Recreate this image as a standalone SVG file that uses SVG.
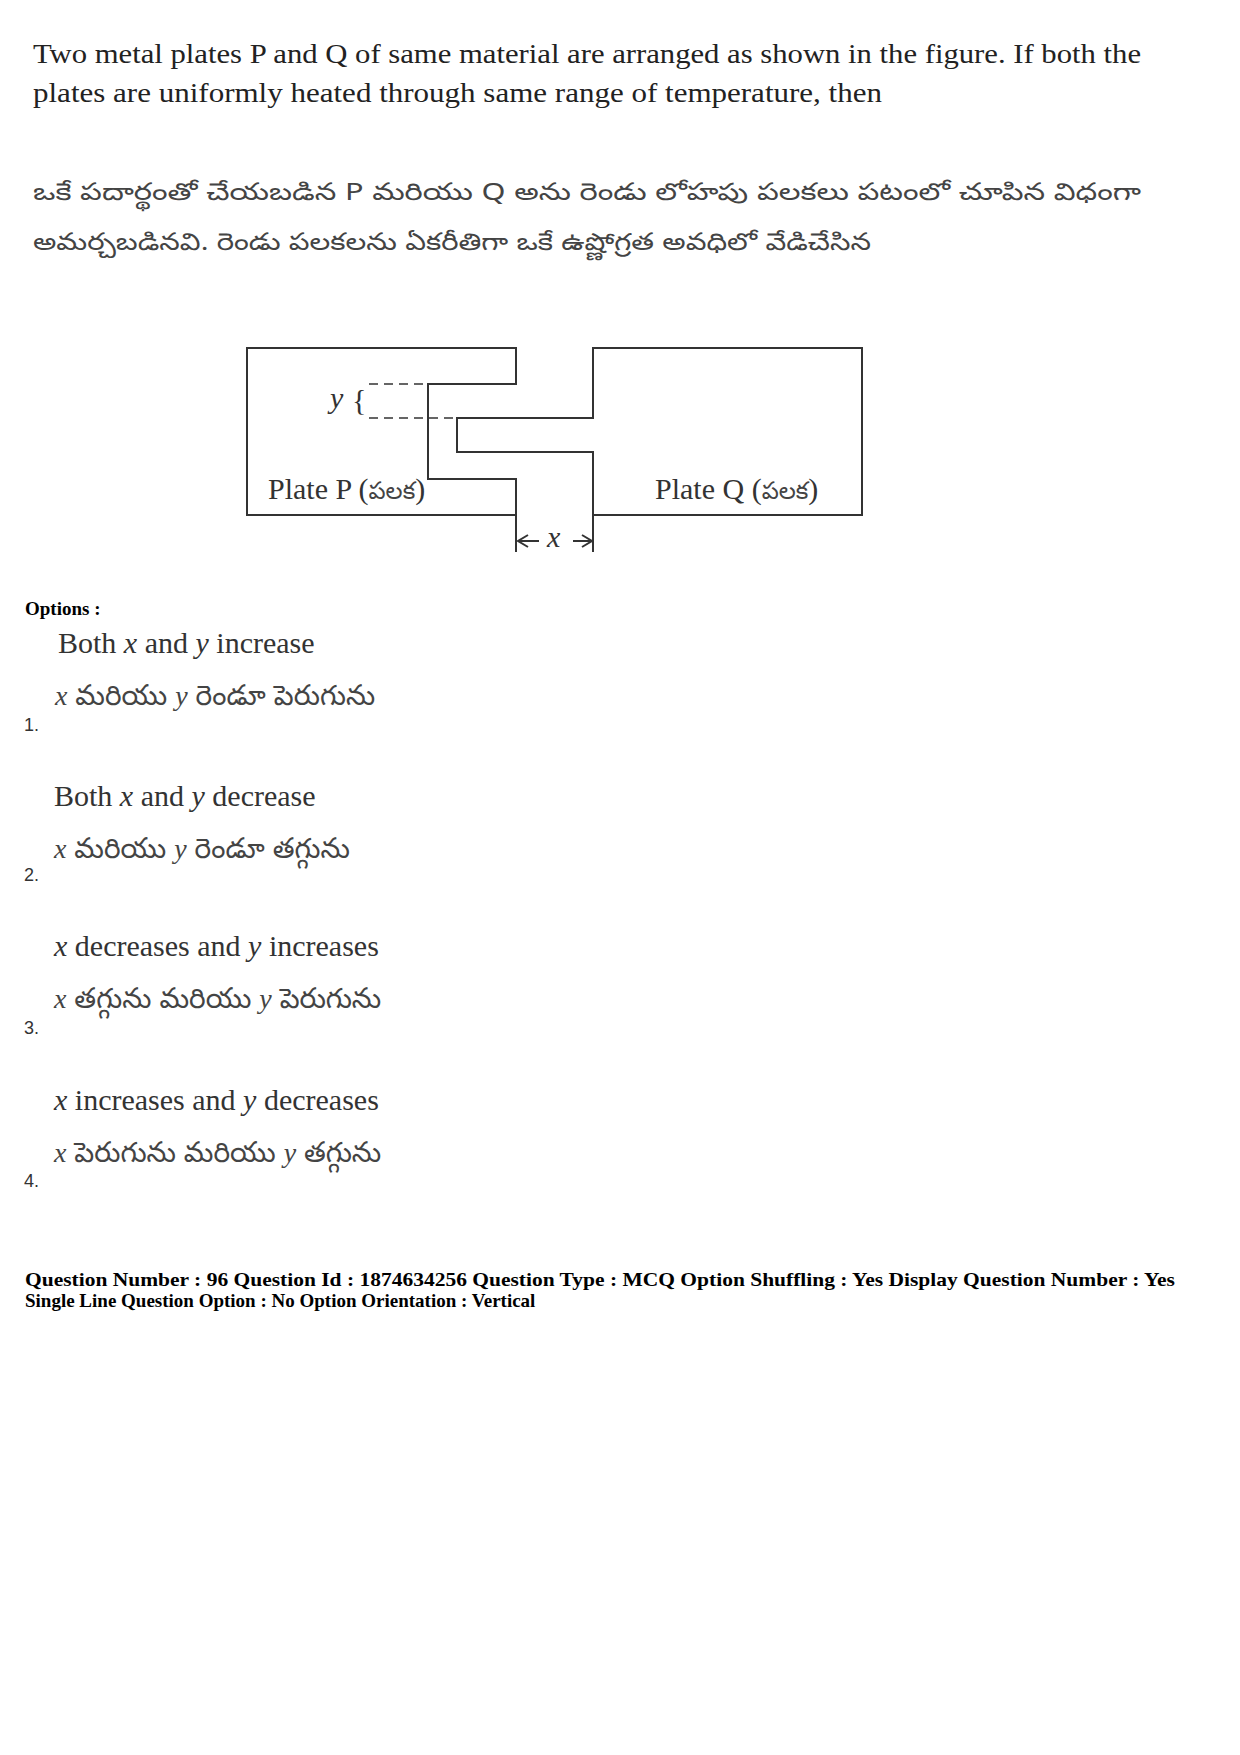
<svg xmlns="http://www.w3.org/2000/svg" width="1240" height="1755" viewBox="0 0 1240 1755">
<style>
.t{font-family:"Liberation Serif","Times New Roman",serif;font-size:28px;fill:#222}
.te{font-family:"Noto Sans Telugu","Noto Sans","Liberation Serif",sans-serif;font-size:24px;fill:#444}
.o{font-family:"Liberation Serif",serif;font-size:30px;fill:#333}
.ot{font-family:"Noto Sans Telugu","Noto Sans","Liberation Serif",sans-serif;font-size:28px;fill:#444}
.n{font-family:"Liberation Sans",sans-serif;font-size:18px;fill:#333}
.b{font-family:"Liberation Serif",serif;font-size:19px;font-weight:bold;fill:#000}
.ln{fill:none;stroke:#333;stroke-width:2}
.d{stroke:#333;stroke-width:1.5;stroke-dasharray:9,6}
.i{font-family:"Liberation Serif",serif;font-style:italic}
</style>
<rect width="1240" height="1755" fill="#fff"/>
<text class="t" x="33" y="63" textLength="1108" lengthAdjust="spacingAndGlyphs">Two metal plates P and Q of same material are arranged as shown in the figure. If both the</text>
<text class="t" x="33" y="102" textLength="849" lengthAdjust="spacingAndGlyphs">plates are uniformly heated through same range of temperature, then</text>
<text class="te" x="33" y="200" textLength="1108" lengthAdjust="spacingAndGlyphs">ఒకే పదార్థంతో చేయబడిన P మరియు Q అను రెండు లోహపు పలకలు పటంలో చూపిన విధంగా</text>
<text class="te" x="33" y="250" textLength="838" lengthAdjust="spacingAndGlyphs">అమర్చబడినవి. రెండు పలకలను ఏకరీతిగా ఒకే ఉష్ణోగ్రత అవధిలో వేడిచేసిన</text>
<g id="plateP"><path class="ln" d="M516,348 H247 V515 H516 V479 H428 V384 H516 Z"/>
<text class="o" x="268" y="499" font-size="25">Plate P (<tspan class="te" font-size="21">పలక</tspan>)</text></g>
<g id="plateQ"><path class="ln" d="M593,348 H862 V515 H593 V452 H457 V418 H593 Z"/>
<text class="o" x="655" y="499" font-size="25">Plate Q (<tspan class="te" font-size="21">పలక</tspan>)</text></g>
<g id="dims">
<line class="d" x1="369" y1="384" x2="428" y2="384"/>
<line class="d" x1="369" y1="418" x2="457" y2="418"/>
<text class="o i" x="330" y="408" font-size="26">y</text>
<text class="o" x="352" y="410" font-size="28">{</text>
<line class="ln" x1="516" y1="515" x2="516" y2="552"/>
<line class="ln" x1="593" y1="515" x2="593" y2="552"/>
<path class="ln" stroke-width="1.5" d="M518,541 H539 M592,541 H573 M528,535 L518,541 L528,547 M582,535 L592,541 L582,547"/>
<text class="o i" x="547" y="547" font-size="26">x</text>
</g>
<text class="b" x="25" y="615">Options :</text>
<text class="o" x="58" y="653">Both <tspan class="i">x</tspan> and <tspan class="i">y</tspan> increase</text>
<text class="ot" x="55" y="705"><tspan class="i">x</tspan> మరియు <tspan class="i">y</tspan> రెండూ పెరుగును</text>
<text class="n" x="24" y="731">1.</text>
<text class="o" x="54" y="806">Both <tspan class="i">x</tspan> and <tspan class="i">y</tspan> decrease</text>
<text class="ot" x="54" y="858"><tspan class="i">x</tspan> మరియు <tspan class="i">y</tspan> రెండూ తగ్గును</text>
<text class="n" x="24" y="881">2.</text>
<text class="o" x="54" y="956"><tspan class="i">x</tspan> decreases and <tspan class="i">y</tspan> increases</text>
<text class="ot" x="54" y="1008"><tspan class="i">x</tspan> తగ్గును మరియు <tspan class="i">y</tspan> పెరుగును</text>
<text class="n" x="24" y="1034">3.</text>
<text class="o" x="54" y="1110"><tspan class="i">x</tspan> increases and <tspan class="i">y</tspan> decreases</text>
<text class="ot" x="54" y="1162"><tspan class="i">x</tspan> పెరుగును మరియు <tspan class="i">y</tspan> తగ్గును</text>
<text class="n" x="24" y="1187">4.</text>
<text class="b" x="25" y="1286" textLength="1150" lengthAdjust="spacingAndGlyphs">Question Number : 96  Question Id : 1874634256  Question Type : MCQ  Option Shuffling : Yes  Display Question Number : Yes</text>
<text class="b" x="25" y="1307">Single Line Question Option : No  Option Orientation : Vertical</text>
</svg>
